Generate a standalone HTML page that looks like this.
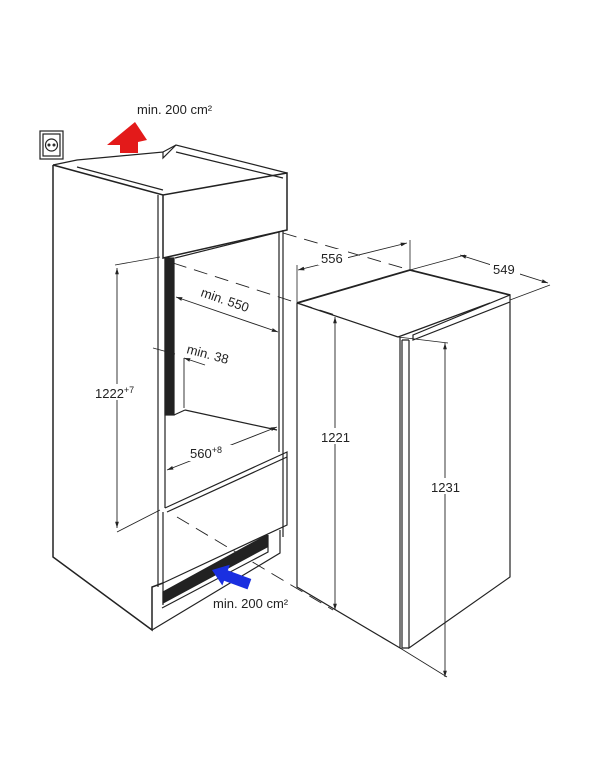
<!DOCTYPE html>
<html><head><meta charset="utf-8"><style>
html,body{margin:0;padding:0;background:#fff;width:613px;height:768px;overflow:hidden}
svg text{font-family:"Liberation Sans",sans-serif;font-size:13px;fill:#222}
</style></head><body>
<svg width="613" height="768" viewBox="0 0 613 768" xmlns="http://www.w3.org/2000/svg">
<defs>
<marker id="a" viewBox="0 0 10 10" refX="10" refY="5" markerWidth="7" markerHeight="7" orient="auto-start-reverse"><path d="M0,2 L10,5 L0,8z" fill="#222"/></marker>
</defs>
<g fill="none" stroke="#222" stroke-width="1.2">
<rect x="40" y="131" width="23" height="28" fill="#fff"/>
<rect x="43" y="134" width="17" height="22"/>
<circle cx="51.5" cy="145" r="6"/>
<circle cx="49" cy="145" r="0.9"/><circle cx="54" cy="145" r="0.9"/>
<path d="M53,165 L163,195 L287,173 L287,230 L163,258 L163,195" stroke-width="1.5"/>
<path d="M53,165 L77,160 L163,152 L163,158 L176,145 L287,173" />
<path d="M77,167 L163,190 M176,152 L283,178 M163,152 L176,145"/>
<path d="M53,165 L53,557 L152,630 L152,587 L163,583" stroke-width="1.5"/>
<path d="M158,195 L158,587 M165,258 L165,508"/>
<path d="M283,230 L283,537 M279,232 L279,452"/>
<rect x="165" y="258" width="9" height="157" fill="#222"/>
<path d="M175,258 L279,232"/>
<path d="M185,410 L277,430 M174,415 L185,410"/>
<path d="M165,508 L287,452 L287,525 L163,583"/>
<path d="M167,512 L287,457"/>
<path d="M163,512 L163,605"/>
<path d="M280,530 L280,553 L152,630"/>
<polygon points="163,592 267,535 267,547 163,603" fill="#222"/>
<path d="M162,608 L268,552 L268,535"/>
<path d="M115,265 L160,257 M117,532 L160,510" stroke-width="0.8"/>
<line x1="117" y1="268" x2="117" y2="528" stroke-width="0.9" marker-start="url(#a)" marker-end="url(#a)"/>
<line x1="176" y1="297" x2="278" y2="332" stroke-width="0.9" marker-start="url(#a)" marker-end="url(#a)"/>
<line x1="153" y1="348" x2="175" y2="354" stroke-width="0.9" marker-end="url(#a)"/>
<line x1="205" y1="365" x2="184" y2="358" stroke-width="0.9" marker-end="url(#a)"/>
<line x1="184" y1="358" x2="184" y2="408" stroke-width="0.9"/>
<line x1="167" y1="470" x2="277" y2="427" stroke-width="0.9" marker-start="url(#a)" marker-end="url(#a)"/>
<path d="M173,263 L335,315 M177,517 L333,610 M283,233 L410,270" stroke-width="0.9" stroke-dasharray="14,8"/>
<path d="M297,303 L410,270 L510,295" stroke-width="1.8"/>
<path d="M297,303 L398,337 M297,303 L297,587 L400,648 L400,337 M398,337 L490,303"/>
<path d="M402,340 L402,648 L409,648 M409,340 L409,648 L510,577 L510,295 L413,335 L413,340 L510,302 M402,340 L409,340"/>
<path d="M297,265 L297,303 M410,240 L410,270 M410,270 L465,255 M510,300 L550,285 M398,337 L448,343 M400,648 L447,677" stroke-width="0.8"/>
<line x1="298" y1="270" x2="407" y2="243" stroke-width="0.9" marker-start="url(#a)" marker-end="url(#a)"/>
<line x1="460" y1="255" x2="548" y2="283" stroke-width="0.9" marker-start="url(#a)" marker-end="url(#a)"/>
<line x1="335" y1="317" x2="335" y2="610" stroke-width="0.9" marker-start="url(#a)" marker-end="url(#a)"/>
<line x1="445" y1="343" x2="445" y2="677" stroke-width="0.9" marker-start="url(#a)" marker-end="url(#a)"/>
</g>
<rect x="90" y="384" width="46" height="16" fill="#fff"/>
<rect x="318" y="428" width="34" height="16" fill="#fff"/>
<rect x="428" y="478" width="36" height="16" fill="#fff"/>
<rect x="318" y="249" width="30" height="16" fill="#fff"/>
<rect x="490" y="260" width="30" height="16" fill="#fff"/>
<rect x="188" y="445" width="46" height="16" fill="#fff"/>
<rect x="196" y="293" width="66" height="14" fill="#fff" transform="rotate(19 229 300)"/>
<polygon points="135,122 107,145 120,145 120,153 138,153 138,142 147,140" fill="#e31a1a"/>
<g transform="translate(212,570) rotate(20)"><polygon points="0,0 15,-11 15,-5 40,-5 40,6 15,6 15,11" fill="#1a2fe0"/></g>
<text x="137" y="114">min. 200 cm²</text>
<text x="213" y="608">min. 200 cm²</text>
<text x="95" y="398">1222<tspan font-size="9" dy="-5">+7</tspan></text>
<text x="321" y="442">1221</text>
<text x="431" y="492">1231</text>
<text x="321" y="263">556</text>
<text x="493" y="274">549</text>
<text x="190" y="458">560<tspan font-size="9" dy="-5">+8</tspan></text>
<text x="0" y="0" transform="translate(200,296) rotate(19)">min. 550</text>
<text x="0" y="0" transform="translate(186,353) rotate(15)">min. 38</text>
</svg>
</body></html>
